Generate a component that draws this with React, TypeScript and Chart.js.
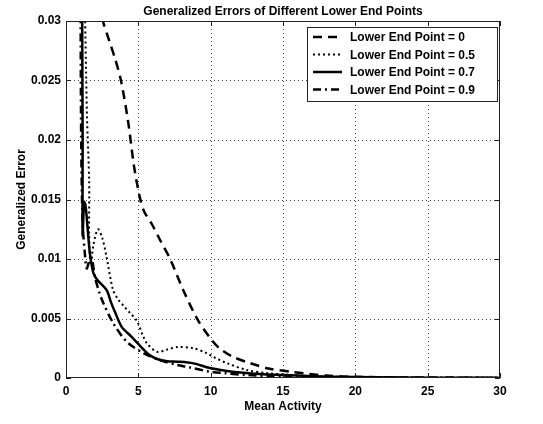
import React, { useEffect, useRef } from "react";
import { Chart, registerables } from "chart.js";

Chart.register(...registerables);

const TITLE = "Generalized Errors of Different Lower End Points";
const X_TITLE = "Mean Activity";
const Y_TITLE = "Generalized Error";
const SERIES_LABELS = [
  "Lower End Point = 0",
  "Lower End Point = 0.5",
  "Lower End Point = 0.7",
  "Lower End Point = 0.9",
];
const X_TICK_LABELS = ["0", "5", "10", "15", "20", "25", "30"];
const Y_TICK_LABELS = ["0", "0.005", "0.01", "0.015", "0.02", "0.025", "0.03"];

const lep0X = [2.2, 2.5, 3.0, 3.4, 3.8, 4.3, 4.7, 5.1, 5.4, 5.95, 6.5, 7.2, 8.1, 9.1, 10.0, 10.6, 11.5, 12.7, 14, 15.7, 18, 20, 25, 30];
const lep0Y = [0.034, 0.0303, 0.0283, 0.0268, 0.025, 0.0215, 0.0178, 0.0152, 0.014, 0.0129, 0.0116, 0.01, 0.0074, 0.0049, 0.0033, 0.0025, 0.0018, 0.00126, 0.0008, 0.0005, 0.0002, 0.0001, 0.00003, 0.00001];

const lep05X = [1.25, 1.45, 1.6, 1.6, 1.7, 1.9, 2.2, 2.5, 2.8, 3.25, 3.6, 3.95, 4.4, 4.9, 5.3, 5.6, 6.3, 7.0, 7.7, 8.8, 9.7, 10.3, 11.1, 12.5, 14, 15, 17, 20, 25, 30];
const lep05Y = [0.035, 0.022, 0.0166, 0.012, 0.0095, 0.0112, 0.0125, 0.0118, 0.0102, 0.0074, 0.0066, 0.0061, 0.0055, 0.0048, 0.0036, 0.0029, 0.0022, 0.0024, 0.0026, 0.0025, 0.0021, 0.0017, 0.00126, 0.00067, 0.0004, 0.0003, 0.00015, 0.00008, 0.00003, 0.00001];

const lep07X = [1.1, 1.15, 1.15, 1.25, 1.35, 1.5, 1.65, 1.9, 2.2, 2.8, 3.1, 3.4, 3.85, 4.5, 5.2, 5.7, 6.3, 7.0, 7.7, 8.8, 9.95, 11.5, 13.4, 15, 17, 20, 25, 30];
const lep07Y = [0.035, 0.02, 0.012, 0.0148, 0.0145, 0.0125, 0.0105, 0.0088, 0.0082, 0.0074, 0.0064, 0.0055, 0.0043, 0.0035, 0.0026, 0.002, 0.0016, 0.0014, 0.00137, 0.00123, 0.00084, 0.00053, 0.00034, 0.00025, 0.00015, 0.00008, 0.00003, 0.00001];

const lep09X = [1.0, 1.05, 1.15, 1.3, 1.43, 1.6, 1.77, 2.0, 2.3, 2.58, 3.27, 4.2, 5.34, 6.5, 7.65, 8.5, 9.95, 11, 12.5, 15, 17, 20, 25, 30];
const lep09Y = [0.035, 0.02, 0.013, 0.0105, 0.0092, 0.0098, 0.0101, 0.0085, 0.0072, 0.0063, 0.0046, 0.00305, 0.0021, 0.0015, 0.0011, 0.0009, 0.00053, 0.0004, 0.00025, 0.00012, 0.00008, 0.00005, 0.00002, 0.00001];

const DASHES = [[9, 6], [2, 3], [], [8, 4, 2, 4]];
const WIDTHS = [2.5, 2, 2.5, 2.5];

const FONT = "'Liberation Sans', Arial, Helvetica, sans-serif";

const zip = (xs: number[], ys: number[]) => xs.map((x, i) => ({ x, y: ys[i] }));

const framePlugin = {
  id: "matlabFrame",
  beforeDatasetsDraw(chart: any) {
    const { ctx, chartArea: a, scales } = chart;
    ctx.save();
    ctx.strokeStyle = "#444";
    ctx.lineWidth = 1;
    ctx.setLineDash([1, 3]);
    scales.x.ticks.forEach((t: any) => {
      const px = Math.round(scales.x.getPixelForValue(t.value)) + 0.5;
      if (px <= a.left + 1 || px >= a.right - 1) return;
      ctx.beginPath();
      ctx.moveTo(px, a.top);
      ctx.lineTo(px, a.bottom);
      ctx.stroke();
    });
    scales.y.ticks.forEach((t: any) => {
      const py = Math.round(scales.y.getPixelForValue(t.value)) + 0.5;
      if (py <= a.top + 1 || py >= a.bottom - 1) return;
      ctx.beginPath();
      ctx.moveTo(a.left, py);
      ctx.lineTo(a.right, py);
      ctx.stroke();
    });
    ctx.restore();
  },
  afterDatasetsDraw(chart: any) {
    const { ctx, chartArea: a, scales } = chart;
    ctx.save();
    ctx.setLineDash([]);
    ctx.strokeStyle = "#222";
    ctx.lineWidth = 1;
    ctx.strokeRect(a.left + 0.5, a.top + 0.5, a.right - a.left - 1, a.bottom - a.top - 1);
    const tl = 5;
    scales.x.ticks.forEach((t: any) => {
      const px = Math.round(scales.x.getPixelForValue(t.value)) + 0.5;
      ctx.beginPath();
      ctx.moveTo(px, a.bottom);
      ctx.lineTo(px, a.bottom - tl);
      ctx.moveTo(px, a.top);
      ctx.lineTo(px, a.top + tl);
      ctx.stroke();
    });
    scales.y.ticks.forEach((t: any) => {
      const py = Math.round(scales.y.getPixelForValue(t.value)) + 0.5;
      ctx.beginPath();
      ctx.moveTo(a.left, py);
      ctx.lineTo(a.left + tl, py);
      ctx.moveTo(a.right, py);
      ctx.lineTo(a.right - tl, py);
      ctx.stroke();
    });

    // legend
    const bx = 307, by = 27, bw = 190, bh = 74;
    ctx.fillStyle = "#fff";
    ctx.fillRect(bx, by, bw, bh);
    ctx.strokeStyle = "#222";
    ctx.strokeRect(bx + 0.5, by + 0.5, bw, bh);
    ctx.font = `bold 12px ${FONT}`;
    ctx.textBaseline = "middle";
    ctx.textAlign = "left";
    SERIES_LABELS.forEach((lab, i) => {
      const y = by + 10 + i * 17.5;
      ctx.strokeStyle = "#000";
      ctx.lineWidth = WIDTHS[i];
      ctx.setLineDash(DASHES[i]);
      ctx.beginPath();
      ctx.moveTo(bx + 6, y);
      ctx.lineTo(bx + 35, y);
      ctx.stroke();
      ctx.setLineDash([]);
      ctx.fillStyle = "#000";
      ctx.fillText(lab, bx + 43, y + 1);
    });
    ctx.restore();
  },
  afterDraw(chart: any) {
    const { ctx, chartArea: a } = chart;
    ctx.save();
    ctx.font = `bold 12px ${FONT}`;
    ctx.fillStyle = "#000";
    ctx.textAlign = "center";
    ctx.textBaseline = "middle";
    const cx = (a.left + a.right) / 2;
    ctx.fillText(TITLE, cx, 12);
    ctx.fillText(X_TITLE, cx, 407);
    ctx.translate(22, (a.top + a.bottom) / 2);
    ctx.rotate(-Math.PI / 2);
    ctx.fillText(Y_TITLE, 0, 0);
    ctx.restore();
  },
};

export default function App() {
  const ref = useRef<HTMLCanvasElement | null>(null);
  useEffect(() => {
    document.body.style.margin = "0";
    const canvas = ref.current!;
    const seriesData = [zip(lep0X, lep0Y), zip(lep05X, lep05Y), zip(lep07X, lep07Y), zip(lep09X, lep09Y)];
    const chart = new Chart(canvas, {
      type: "line",
      data: {
        datasets: seriesData.map((d, i) => ({
          label: SERIES_LABELS[i],
          data: d,
          borderColor: "#000",
          backgroundColor: "#000",
          borderWidth: WIDTHS[i],
          borderDash: DASHES[i],
          pointRadius: 0,
          tension: 0.3,
          fill: false,
        })),
      },
      options: {
        animation: false,
        responsive: false,
        layout: { padding: { left: 0, top: 21, right: 43, bottom: 0 } },
        plugins: {
          legend: { display: false },
          tooltip: { enabled: false },
          title: { display: false },
        },
        scales: {
          x: {
            type: "linear",
            min: 0,
            max: 30,
            ticks: {
              stepSize: 5,
              color: "#000",
              font: { family: FONT, size: 12, weight: "bold" },
              padding: 6,
              maxRotation: 0,
              callback: (_v: any, i: number) => X_TICK_LABELS[i],
            },
            grid: { display: false, drawTicks: false },
            border: { display: false },
            afterFit: (s: any) => {
              s.height = 46;
            },
          },
          y: {
            type: "linear",
            min: 0,
            max: 0.03,
            ticks: {
              stepSize: 0.005,
              color: "#000",
              font: { family: FONT, size: 12, weight: "bold" },
              padding: 5,
              callback: (_v: any, i: number) => Y_TICK_LABELS[i],
            },
            grid: { display: false, drawTicks: false },
            border: { display: false },
            afterFit: (s: any) => {
              s.width = 66;
            },
          },
        },
      },
      plugins: [framePlugin],
    } as any);
    return () => chart.destroy();
  }, []);
  return <canvas ref={ref} width={543} height={424} style={{ display: "block" }} />;
}
